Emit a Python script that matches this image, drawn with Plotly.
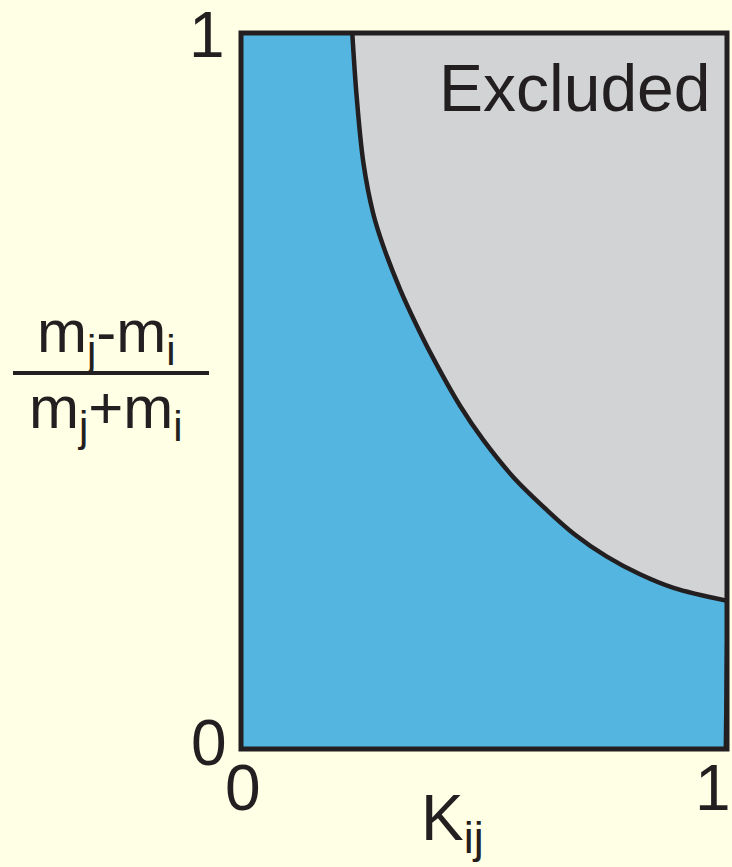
import plotly.graph_objects as go

# Boundary curve between allowed (blue) and excluded (grey) regions
k_boundary = [0.229, 0.238, 0.252, 0.272, 0.293, 0.328, 0.359, 0.393, 0.451, 0.498,
              0.560, 0.629, 0.686, 0.752, 0.821, 0.890, 1.0]
m_boundary = [1.0, 0.911, 0.818, 0.748, 0.702, 0.641, 0.595, 0.549, 0.479, 0.432,
              0.380, 0.334, 0.300, 0.269, 0.244, 0.225, 0.207]
# right edge of the allowed region below the curve
k_right_edge = [1.0, 0.996]
m_right_edge = [0.207, 0.0]

x_ticks = [0, 1]
y_ticks = [0, 1]
tick_labels = ["0", "1"]

BLUE = "#53B5E0"
GREY = "#D1D3D4"
INK = "#231F20"
BG = "#FFFFE6"
FONT = "Liberation Sans, Arial, sans-serif"

W, H = 732, 867
L, R, T, B = 241, 727, 33, 749


def px(xp):
    return (xp - L) / (R - L)


def py(yp):
    return (B - yp) / (B - T)


fig = go.Figure()

# top edge of the excluded region (invisible), then the curve filled up to it
fig.add_trace(go.Scatter(x=k_boundary, y=[1.0] * len(k_boundary), mode="lines",
                         line=dict(width=0), hoverinfo="skip", showlegend=False))
fig.add_trace(go.Scatter(x=k_boundary, y=m_boundary, mode="lines", fill="tonexty",
                         fillcolor=GREY,
                         line=dict(color=INK, width=4.5, shape="spline", smoothing=1.0),
                         hoverinfo="skip", showlegend=False))
fig.add_trace(go.Scatter(x=k_right_edge, y=m_right_edge, mode="lines",
                         line=dict(color=INK, width=3), hoverinfo="skip", showlegend=False))

# frame
fig.add_shape(type="rect", xref="paper", yref="paper", x0=0, x1=1, y0=0, y1=1,
              line=dict(color=INK, width=5), layer="above")

tick_font = dict(family=FONT, size=64, color=INK)
# x tick labels (placed on the x scale)
for v, t in zip(x_ticks, tick_labels):
    fig.add_annotation(text=t, xref="x", yref="paper", x=v, y=py(788),
                       xanchor="right" if v == 1 else "center", yanchor="middle",
                       showarrow=False, font=tick_font, xshift=6 if v == 1 else 2)
# y tick labels (placed on the y scale)
for v, t in zip(y_ticks, tick_labels):
    fig.add_annotation(text=t, xref="paper", yref="y", x=px(229 if v == 0 else 227), y=v,
                       xanchor="right", yanchor="middle", showarrow=False, font=tick_font,
                       yshift=6 if v == 0 else -2)

# y-axis label as a fraction
fig.add_shape(type="line", xref="paper", yref="paper", x0=px(13), x1=px(209),
              y0=py(373), y1=py(373), line=dict(color=INK, width=4))
fig.add_annotation(text="m<sub>j</sub>-m<sub>i</sub>", xref="paper", yref="paper",
                   x=px(106), y=py(336), xanchor="center", yanchor="middle", showarrow=False,
                   font=dict(family=FONT, size=60, color=INK))
fig.add_annotation(text="m<sub>j</sub>+m<sub>i</sub>", xref="paper", yref="paper",
                   x=px(106), y=py(412), xanchor="center", yanchor="middle", showarrow=False,
                   font=dict(family=FONT, size=60, color=INK))

# x-axis label
fig.add_annotation(text="K<sub>ij</sub>", xref="paper", yref="paper",
                   x=px(452), y=py(822), xanchor="center", yanchor="middle", showarrow=False,
                   font=dict(family=FONT, size=64, color=INK))

# region label
fig.add_annotation(text="Excluded", xref="paper", yref="paper",
                   x=px(713), y=py(88), xanchor="right", yanchor="middle", showarrow=False,
                   font=dict(family=FONT, size=66, color=INK))

fig.update_layout(
    width=W, height=H,
    margin=dict(l=L, r=W - R, t=T, b=H - B, autoexpand=False),
    paper_bgcolor=BG, plot_bgcolor=BLUE,
    showlegend=False,
)
fig.update_xaxes(range=[0, 1], showticklabels=False, showgrid=False,
                 zeroline=False, showline=False, ticks="", automargin=False, fixedrange=True)
fig.update_yaxes(range=[0, 1], showticklabels=False, showgrid=False,
                 zeroline=False, showline=False, ticks="", automargin=False, fixedrange=True)

fig.write_html("out.html", config={"displayModeBar": False},
               post_script="document.body.style.margin='0';document.body.style.padding='0';"
                           "document.body.style.background='" + BG + "';")
